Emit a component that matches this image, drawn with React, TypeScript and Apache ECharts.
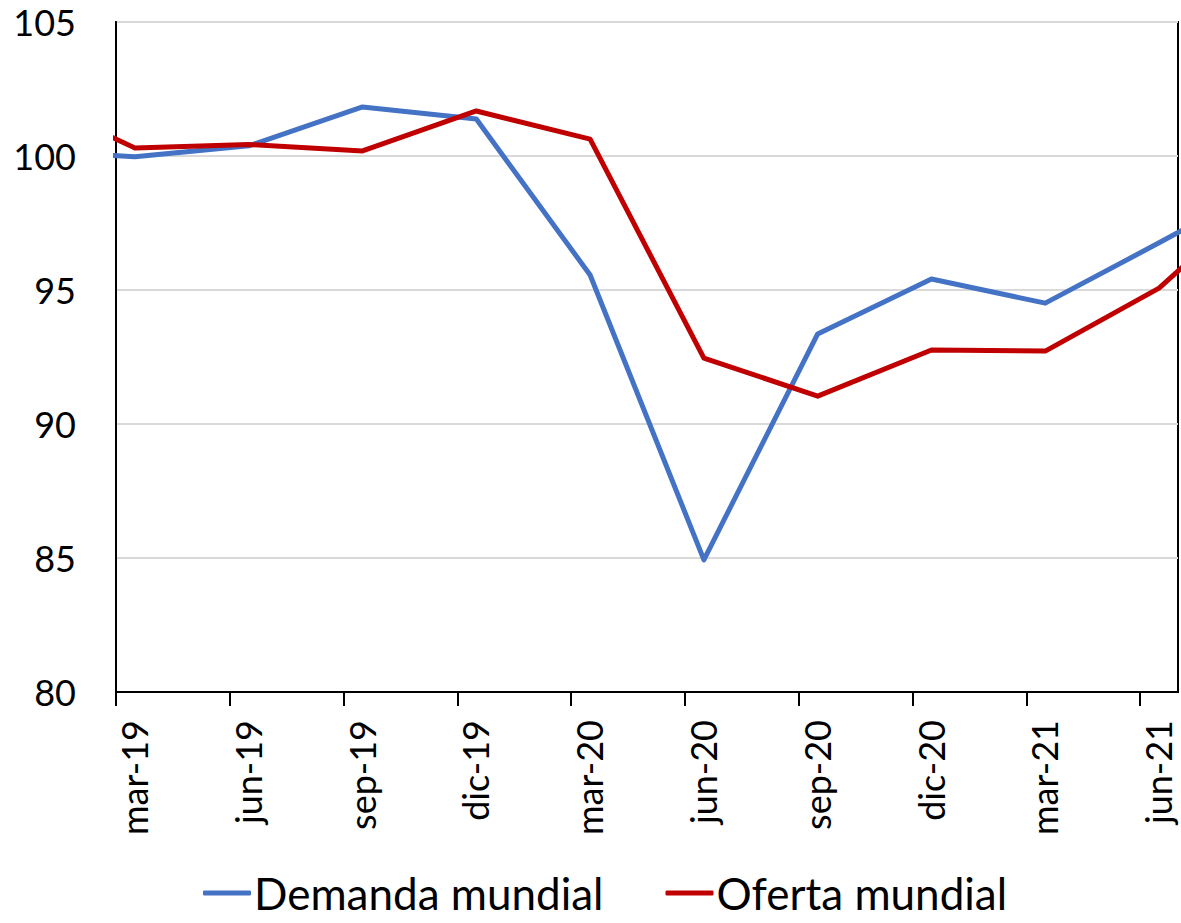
import React, { useEffect, useRef } from "react";
import * as echarts from "echarts";

// Quarter labels shown on the x axis (tick at first day of the month)
const tickLabels = ["mar-19", "jun-19", "sep-19", "dic-19", "mar-20", "jun-20", "sep-20", "dic-20", "mar-21", "jun-21"];
// Observation periods (mid-month of each quarter month), including the ones clipped at the edges
const periods = ["dic-18", "mar-19", "jun-19", "sep-19", "dic-19", "mar-20", "jun-20", "sep-20", "dic-20", "mar-21", "jun-21", "sep-21"];
// Position of each period in months since 1 mar-19
const periodMonths = [-2.5, 0.5, 3.5, 6.5, 9.5, 12.5, 15.5, 18.5, 21.5, 24.5, 27.5, 30.5];
const demanda = [100.21, 99.97, 100.38, 101.83, 101.38, 95.56, 84.93, 93.36, 95.41, 94.51, 96.76, 99.06];
const oferta = [102.28, 100.3, 100.43, 100.19, 101.68, 100.63, 92.46, 91.04, 92.76, 92.72, 95.07, 98.9];
const tickMonths = [0, 3, 6, 9, 12, 15, 18, 21, 24, 27];

const FONT = "Lato";

export default function App() {
  const ref = useRef<HTMLDivElement>(null);
  useEffect(() => {
    if (!ref.current) return;
    const chart = echarts.init(ref.current, null, { renderer: "svg" });
    const toPairs = (vals: number[]) => vals.map((v, i) => [periodMonths[i], v]);
    chart.setOption({
      animation: false,
      backgroundColor: "#fff",
      grid: {
        left: 116,
        right: 3,
        top: 22,
        bottom: 231,
        show: true,
        borderColor: "#000",
        borderWidth: 2,
      },
      legend: {
        left: 198,
        top: 866,
        itemGap: 62,
        itemWidth: 48,
        itemHeight: 5,
        icon: "roundRect",
        textStyle: { fontFamily: FONT, fontSize: 44, color: "#000", padding: [0, 0, 0, -2] },
        data: [{ name: "Demanda mundial" }, { name: "Oferta mundial" }],
      },
      xAxis: {
        type: "value",
        min: 0,
        max: 28,
        axisLine: { show: true, lineStyle: { color: "#000", width: 2 } },
        axisTick: {
          show: true,
          length: 14,
          customValues: tickMonths,
          lineStyle: { color: "#000", width: 2 },
        },
        splitLine: { show: false },
        axisLabel: {
          customValues: tickMonths,
          rotate: 90,
          margin: 28,
          verticalAlign: "top",
          fontFamily: FONT,
          fontSize: 36,
          color: "#000",
          formatter: (v: number) => {
            const idx = tickMonths.indexOf(Math.round(v));
            return idx >= 0 ? tickLabels[idx] : "";
          },
        },
      },
      yAxis: {
        type: "value",
        min: 80,
        max: 105,
        interval: 5,
        axisLine: { show: true, lineStyle: { color: "#000", width: 2 } },
        axisTick: { show: false },
        splitLine: { show: true, lineStyle: { color: "#D9D9D9", width: 2 } },
        axisLabel: { fontFamily: FONT, fontSize: 36, color: "#000", margin: 40 },
      },
      series: [
        {
          name: "Demanda mundial",
          type: "line",
          data: toPairs(demanda),
          symbol: "none",
          clip: true,
          color: "#4472C4",
          lineStyle: { width: 5, color: "#4472C4", join: "round" },
          z: 3,
        },
        {
          name: "Oferta mundial",
          type: "line",
          data: toPairs(oferta),
          symbol: "none",
          clip: true,
          color: "#C00000",
          lineStyle: { width: 5, color: "#C00000", join: "round" },
          z: 4,
        },
      ],
    });
    return () => chart.dispose();
  }, []);
  return (
    <div
      ref={ref}
      style={{ position: "fixed", left: 0, top: 0, width: 1181, height: 923, background: "#fff" }}
    />
  );
}
